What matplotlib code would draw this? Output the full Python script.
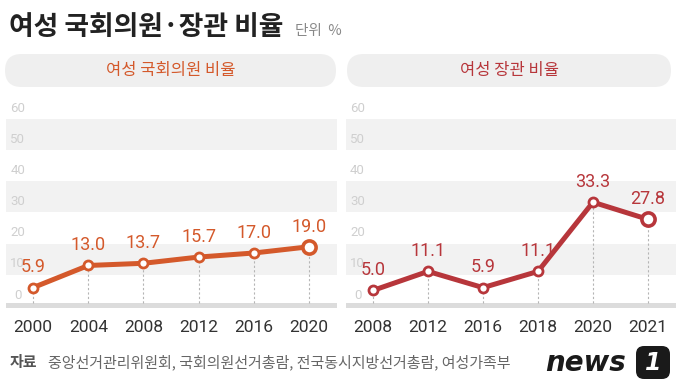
import matplotlib
matplotlib.use("Agg")
import matplotlib.pyplot as plt
from matplotlib.patches import FancyBboxPatch

# 데이터
years_mp = ["2000", "2004", "2008", "2012", "2016", "2020"]
ratio_mp = [5.9, 13.0, 13.7, 15.7, 17.0, 19.0]
years_min = ["2008", "2012", "2016", "2018", "2020", "2021"]
ratio_min = [5.0, 11.1, 5.9, 11.1, 33.3, 27.8]
yticks = [0, 10, 20, 30, 40, 50, 60]

title = "여성 국회의원·장관 비율"
unit = "단위  %"
header_mp = "여성 국회의원 비율"
header_min = "여성 장관 비율"
source_head = "자료"
source_text = "중앙선거관리위원회, 국회의원선거총람, 전국동시지방선거총람, 여성가족부"

ORANGE = "#d4592b"
RED = "#b7363b"
KR = ["Noto Sans CJK KR", "DejaVu Sans"]
NUM = ["Roboto", "DejaVu Sans"]

W, H = 680, 390
fig = plt.figure(figsize=(W / 100, H / 100), dpi=100)

# 배경용 픽셀 좌표 축
bg = fig.add_axes([0, 0, 1, 1])
bg.set_xlim(0, W)
bg.set_ylim(H, 0)
bg.axis("off")

bg.text(9, 27, title, family=KR, fontsize=19.3, fontweight="bold",
        color="#222222", va="center", ha="left")
bg.text(295, 31, unit, family=KR, fontsize=10.5, color="#888888",
        va="center", ha="left")

for x0, x1, txt, col in [(5, 336, header_mp, ORANGE), (347, 671, header_min, RED)]:
    bg.add_patch(FancyBboxPatch((x0, 54), x1 - x0, 33,
                                boxstyle="round,pad=0,rounding_size=16.5",
                                fc="#efefef", ec="none"))
    bg.text((x0 + x1) / 2, 71, txt, family=KR, fontsize=11.9, color=col,
            va="center", ha="center")

bg.text(10, 362, source_head, family=KR, fontsize=10.8, fontweight="bold",
        color="#555555", va="center", ha="left")
bg.text(48, 362, source_text, family=KR, fontsize=10.8, color="#666666",
        va="center", ha="left")

# news1 로고
bg.text(545, 363, "news", family="DejaVu Sans", fontsize=20, fontweight="bold",
        style="italic", color="#1a1a1a", va="center", ha="left")
bg.add_patch(FancyBboxPatch((636, 346), 34, 33,
                            boxstyle="round,pad=0,rounding_size=8",
                            fc="#1a1a1a", ec="none"))
bg.text(653, 363, "1", family="DejaVu Sans", fontsize=17, fontweight="bold",
        style="italic", color="white", va="center", ha="center")

# 차트 영역 (px 단위 위치)
px_per_unit = 3.117
zero_px = 306
top_px, bot_px = 100, 310
ylim = ((zero_px - bot_px) / px_per_unit, (zero_px - top_px) / px_per_unit)


def draw_panel(left_px, right_px, labels, values, color):
    ax = fig.add_axes([left_px / W, (H - bot_px) / H,
                       (right_px - left_px) / W, (bot_px - top_px) / H])
    ax.patch.set_visible(False)
    ax.set_xlim(-0.5, len(labels) - 0.5)
    ax.set_ylim(*ylim)
    ax.axis("off")

    for lo in (10, 30, 50):
        ax.axhspan(lo, lo + 10, color="#f2f2f2", lw=0, zorder=0)
    ax.axhspan(-0.7, 0.95, color="#dcdcdc", lw=0, zorder=1)

    for t in yticks:
        ax.text(-0.28, t + 3.5, str(t), family=NUM, fontsize=9.5,
                color="#cfcfcf", ha="center", va="center", zorder=2)

    xs = list(range(len(labels)))
    for x, v in zip(xs, values):
        ax.plot([x, x], [0.95, v], color="#b5b5b5", lw=0.8,
                linestyle=(0, (2, 2)), zorder=2)

    ax.plot(xs, values, color=color, lw=3.6, zorder=3,
            solid_capstyle="round", solid_joinstyle="round")
    ax.plot(xs[:-1], values[:-1], "o", ms=6.5, mfc="white", mec=color,
            mew=2.0, zorder=4)
    ax.plot(xs[-1], values[-1], "o", ms=9.5, mfc="white", mec=color,
            mew=2.6, zorder=4)

    for x, v in zip(xs, values):
        ax.annotate(f"{v:.1f}", (x, v), xytext=(0, 14.5),
                    textcoords="offset points", ha="center", va="center",
                    family=NUM, fontsize=13, color=color, zorder=5)

    for x, lab in zip(xs, labels):
        ax.text(x, (zero_px - 327) / px_per_unit, lab, family=NUM,
                fontsize=12.5, color="#333333", ha="center", va="center",
                clip_on=False)
    return ax


draw_panel(5.5, 336.5, years_mp, ratio_mp, ORANGE)
draw_panel(345.5, 675.5, years_min, ratio_min, RED)

fig.savefig("out.png", dpi=100)
